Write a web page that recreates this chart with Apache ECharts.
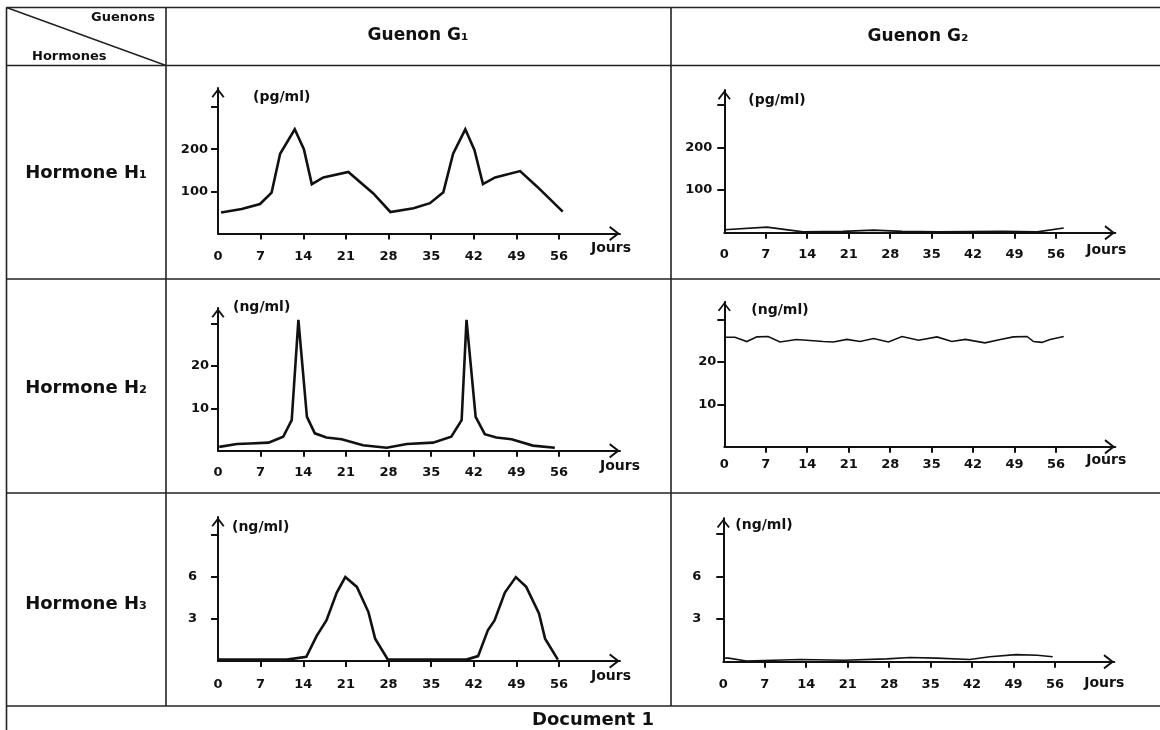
<!DOCTYPE html>
<html><head><meta charset="utf-8">
<script src="https://cdn.jsdelivr.net/npm/echarts@6/dist/echarts.min.js"></script>
<style>html,body{margin:0;padding:0;background:#fff}#c{width:1160px;height:730px}</style>
</head><body><div id="c"></div>
<script>
// ---- labels / ticks ----
const dayTicks = [0, 7, 14, 21, 28, 35, 42, 49, 56];
const guenonLabels = ['Guenon G₁', 'Guenon G₂'];
const hormoneLabels = ['Hormone H₁', 'Hormone H₂', 'Hormone H₃'];
const unitLabels = ['(pg/ml)', '(ng/ml)', '(ng/ml)'];
const h1Ticks = [100, 200, 300];
const h1TickLabels = [100, 200];
const h2Ticks = [10, 20, 30];
const h2TickLabels = [10, 20];
const h3Ticks = [3, 6, 9];
const h3TickLabels = [3, 6];

// ---- data: [day, concentration] ----
const g1H1 = [[0.5,50],[3.9,58],[6.9,70],[8.8,97],[10.2,189],[12.6,247],[14.1,200],[15.4,117],[17.3,133],[21.4,146],[25.5,95],[28.3,51],[32.1,60],[34.8,72],[37,98],[38.6,189],[40.6,247],[42.1,198],[43.5,117],[45.5,133],[49.6,148],[52.4,111],[56.6,52]];
const g1H2 = [[0.2,0.9],[3.1,1.6],[5.2,1.7],[8.3,1.9],[10.7,3.3],[12.1,7.2],[13.2,30.9],[14.6,8],[15.9,4.1],[17.8,3.1],[20.3,2.7],[23.8,1.3],[27.7,0.7],[31,1.6],[35.3,1.9],[38.3,3.3],[40,7.2],[40.8,30.9],[42.3,8],[43.8,3.9],[45.7,3.1],[48.2,2.7],[51.7,1.2],[55.3,0.7]];
const g1H3 = [[0,0.1],[11.3,0.1],[14.5,0.3],[16.2,1.8],[17.8,2.9],[19.5,4.9],[20.9,6.0],[22.8,5.3],[24.7,3.5],[25.8,1.6],[27.9,0.1],[40.8,0.1],[42.7,0.35],[44.3,2.2],[45.4,2.9],[47.1,4.9],[48.9,6.0],[50.6,5.3],[52.7,3.4],[53.7,1.6],[55.8,0.1]];
const g2H1 = [[0,7],[7.2,13],[13.3,2],[20,3],[25.2,6],[30,3],[36,2],[47,3],[52.8,2],[57.3,11]];
const g2H2 = [[0,25.8],[1.8,25.8],[3.8,24.8],[5.5,25.9],[7.4,26],[9.4,24.7],[12.2,25.3],[16.7,24.8],[18.4,24.7],[20.7,25.3],[22.9,24.8],[25.2,25.5],[27.7,24.7],[30,26],[32.8,25.1],[35.9,25.9],[38.4,24.8],[40.7,25.3],[44,24.5],[46.6,25.3],[48.8,25.9],[51.1,26],[52.2,24.8],[53.6,24.6],[55,25.3],[57.3,26]];
const g2H3 = [[0,0.26],[0.9,0.25],[3.9,0.05],[13,0.15],[20.4,0.1],[27.6,0.2],[31.5,0.3],[36,0.25],[41.6,0.15],[45,0.35],[49.4,0.5],[53,0.45],[55.6,0.35]];

// ---- layout / style ----
const INK = '#111';
const FONT = '"DejaVu Sans", Verdana, sans-serif';
const ARROW = 'path://M7,0 L14,9 L12.4,10 L7,3 L1.6,10 L0,9 Z';

const panels = [
  {data:g1H1, ticks:h1Ticks, labels:h1TickLabels, unit:unitLabels[0], lw:2.6, left:218, top:88, width:402, height:145.5, yMax:345, ym:10, xm:17, uo:35, ug:-9, jg:11, jp:8},
  {data:g1H2, ticks:h2Ticks, labels:h2TickLabels, unit:unitLabels[1], lw:2.6, left:218, top:308, width:402, height:142.7, yMax:33.7, ym:9, xm:15, uo:15, ug:1, jg:20, jp:9},
  {data:g1H3, ticks:h3Ticks, labels:h3TickLabels, unit:unitLabels[2], lw:2.6, left:218, top:517, width:402, height:144, yMax:10.3, ym:21, xm:17, uo:14, ug:-10, jg:11, jp:8},
  {data:g2H1, ticks:h1Ticks, labels:h1TickLabels, unit:unitLabels[0], lw:1.6, left:724.3, top:90, width:391, height:142.7, yMax:335, ym:12, xm:15, uo:24, ug:-10, jg:11, jp:11},
  {data:g2H2, ticks:h2Ticks, labels:h2TickLabels, unit:unitLabels[1], lw:1.6, left:724.3, top:301.7, width:391, height:145, yMax:34.2, ym:8, xm:11, uo:27, ug:-9, jg:11, jp:7},
  {data:g2H3, ticks:h3Ticks, labels:h3TickLabels, unit:unitLabels[2], lw:1.6, left:723.3, top:518.3, width:391, height:143.4, yMax:10.1, ym:22, xm:16, uo:12, ug:-7, jg:10, jp:15}
];

const axisLineStyle = {color: INK, width: 2};
const grids = [], xAxes = [], yAxes = [], series = [];
panels.forEach((p, i) => {
  grids.push({left: p.left, top: p.top, width: p.width, height: p.height, containLabel: false, outerBoundsMode: 'none'});
  xAxes.push({
    gridIndex: i, type: 'value', min: 0, max: 66,
    name: 'Jours', nameLocation: 'end', nameGap: p.jg,
    nameTextStyle: {fontFamily: FONT, fontWeight: 'bold', fontSize: 14, color: INK, align: 'right', verticalAlign: 'top', padding: [p.jp, 0, 0, 0]},
    axisLine: {show: true, onZero: false, lineStyle: axisLineStyle, symbol: ['none', ARROW], symbolSize: [15, 11], symbolOffset: [0, -5.5]},
    axisTick: {show: true, customValues: dayTicks.slice(1), length: 6, lineStyle: axisLineStyle},
    axisLabel: {show: true, customValues: dayTicks, margin: p.xm, fontFamily: FONT, fontWeight: 'bold', fontSize: 13, color: INK},
    splitLine: {show: false}
  });
  yAxes.push({
    gridIndex: i, type: 'value', min: 0, max: p.yMax,
    name: p.unit, nameLocation: 'end', nameGap: p.ug,
    nameTextStyle: {fontFamily: FONT, fontWeight: 'bold', fontSize: 14, color: INK, align: 'left', verticalAlign: 'middle', padding: [0, 0, 0, p.uo]},
    axisLine: {show: true, lineStyle: axisLineStyle, symbol: ['none', ARROW], symbolSize: [13, 10], symbolOffset: [0, -5]},
    axisTick: {show: true, customValues: p.ticks, length: 7, lineStyle: axisLineStyle},
    axisLabel: {show: true, customValues: p.labels, margin: p.ym, fontFamily: FONT, fontWeight: 'bold', fontSize: 13, color: INK},
    splitLine: {show: false}
  });
  series.push({
    type: 'line', xAxisIndex: i, yAxisIndex: i, data: p.data,
    symbol: 'none', smooth: false, silent: true,
    lineStyle: {color: INK, width: p.lw, join: 'miter'}
  });
});

// ---- table frame & texts ----
const frameStyle = {stroke: '#222', lineWidth: 1.6};
const hLines = [7.5, 65.5, 279, 493, 706];
const vLines = [6.5, 166, 671];
const graphic = [];
hLines.forEach(y => graphic.push({type: 'line', shape: {x1: 6.5, y1: y, x2: 1160, y2: y}, style: frameStyle, silent: true}));
vLines.forEach((x, k) => graphic.push({type: 'line', shape: {x1: x, y1: 7.5, x2: x, y2: k === 0 ? 730 : 706}, style: frameStyle, silent: true}));
graphic.push({type: 'line', shape: {x1: 6.5, y1: 7.5, x2: 166, y2: 65.5}, style: frameStyle, silent: true});

function txt(text, x, y, size, align) {
  return {type: 'text', x: x, y: y, silent: true,
    style: {text: text, fill: INK, font: 'bold ' + size + 'px ' + FONT, align: align || 'center', verticalAlign: 'middle'}};
}
graphic.push(txt('Guenons', 155, 17.5, 13, 'right'));
graphic.push(txt('Hormones', 32, 56.5, 13, 'left'));
graphic.push(txt(guenonLabels[0], 418, 36, 17));
graphic.push(txt(guenonLabels[1], 918, 37, 17));
graphic.push(txt(hormoneLabels[0], 86, 173, 18));
graphic.push(txt(hormoneLabels[1], 86, 388, 18));
graphic.push(txt(hormoneLabels[2], 86, 604, 18));
graphic.push(txt('Document 1', 593, 720, 18));

const chart = echarts.init(document.getElementById('c'), null, {renderer: 'canvas'});
chart.setOption({
  backgroundColor: '#fff',
  animation: false,
  grid: grids, xAxis: xAxes, yAxis: yAxes, series: series,
  graphic: graphic
});
</script>
</body></html>
